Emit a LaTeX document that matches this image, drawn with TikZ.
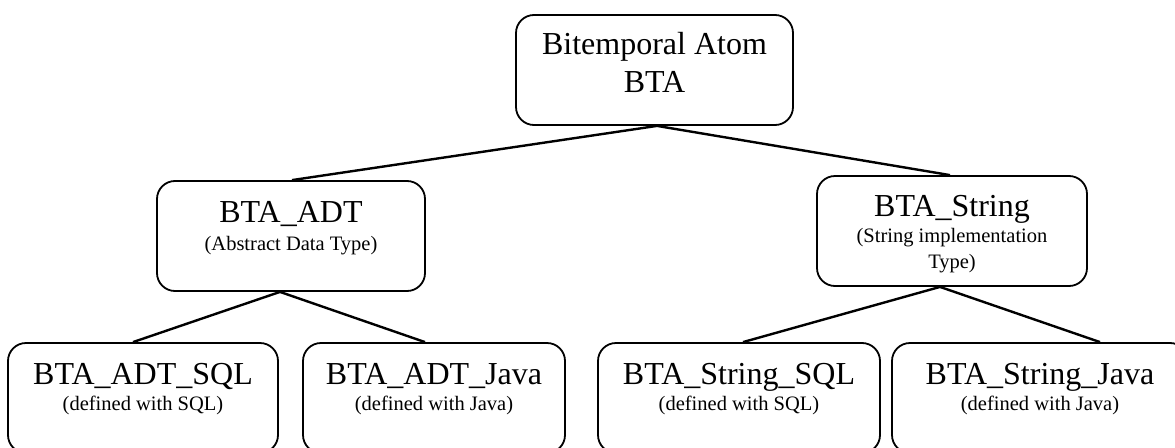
\documentclass[tikz,border=0pt]{standalone}
\usepackage{fontspec}
\setmainfont{Liberation Serif}
\begin{document}
\begin{tikzpicture}[x=1pt,y=-1pt,
  box/.style={draw, line width=1.8pt, rounded corners=18pt, inner sep=0pt,
              minimum height=110pt},
  big/.style={font=\fontsize{32}{38}\selectfont, inner sep=0pt, anchor=base},
  small/.style={font=\fontsize{20.5}{25}\selectfont, inner sep=0pt, anchor=base},
  link/.style={line width=2.4pt}]
\useasboundingbox (0,0) rectangle (1175,447);
\clip (0,0) rectangle (1175,447);
\fill[white] (0,0) rectangle (1175,447);

% boxes
\node[box, minimum width=277pt] (bta)  at (654.5,70) {};
\node[box, minimum width=268pt] (adt)  at (291,236) {};
\node[box, minimum width=270pt] (str)  at (952,231) {};
\node[box, minimum width=270pt] (adtsql)  at (143,398) {};
\node[box, minimum width=262pt] (adtjava) at (434,398) {};
\node[box, minimum width=282pt] (strsql)  at (739,398) {};
\node[box, minimum width=296pt] (strjava) at (1040,398) {};

% texts
\node[big] at ([yshift=-40pt]bta.north) {Bitemporal Atom};
\node[big] at ([yshift=-78pt]bta.north) {BTA};
\node[big]   at ([yshift=-42pt]adt.north) {BTA\_ADT};
\node[small] at ([yshift=-70pt]adt.north) {(Abstract Data Type)};
\node[big]   at ([yshift=-41pt]str.north) {BTA\_String};
\node[small] at ([yshift=-67pt]str.north) {(String implementation};
\node[small] at ([yshift=-93pt]str.north) {Type)};
\node[big]   at ([yshift=-42pt]adtsql.north) {BTA\_ADT\_SQL};
\node[small] at ([yshift=-68pt]adtsql.north) {(defined with SQL)};
\node[big]   at ([yshift=-42pt]adtjava.north) {BTA\_ADT\_Java};
\node[small] at ([yshift=-68pt]adtjava.north) {(defined with Java)};
\node[big]   at ([yshift=-42pt]strsql.north) {BTA\_String\_SQL};
\node[small] at ([yshift=-68pt]strsql.north) {(defined with SQL)};
\node[big]   at ([yshift=-42pt]strjava.north) {BTA\_String\_Java};
\node[small] at ([yshift=-68pt]strjava.north) {(defined with Java)};

% connector ends
\coordinate (btaS)  at ([xshift=2.5pt]bta.south);
\coordinate (adtN)  at ([xshift=1pt]adt.north);
\coordinate (strN)  at ([xshift=-2pt]str.north);
\coordinate (adtS)  at ([xshift=-11pt]adt.south);
\coordinate (strS)  at ([xshift=-12pt]str.south);
\coordinate (asN)   at ([xshift=-10pt]adtsql.north);
\coordinate (ajN)   at ([xshift=-9pt]adtjava.north);
\coordinate (ssN)   at ([xshift=4pt]strsql.north);
\coordinate (sjN)   at ([xshift=60pt]strjava.north);

% connectors
\draw[link] (adtN) -- (btaS) -- (strN);
\draw[link] (asN) -- (adtS) -- (ajN);
\draw[link] (ssN) -- (strS) -- (sjN);
\end{tikzpicture}
\end{document}
